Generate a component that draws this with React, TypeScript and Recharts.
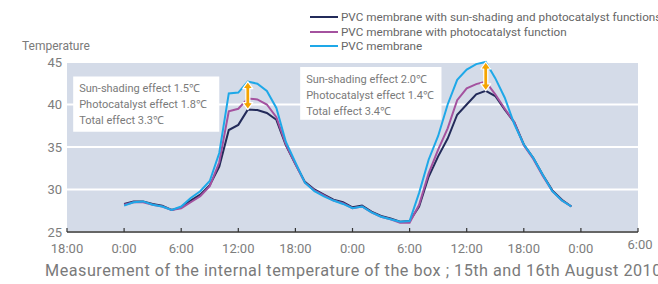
import React from 'react';
import { LineChart, Line, XAxis, YAxis, CartesianGrid, ReferenceArea, ReferenceLine } from 'recharts';

// hours counted from 18:00 on the evening before the first measuring day
const hours = [6, 7, 8, 9, 10, 11, 12, 13, 14, 15, 16, 17, 18, 19, 20, 21, 22, 23, 24, 25, 26, 27, 28, 29, 30, 31, 32, 33, 34, 35, 36, 37, 38, 39, 40, 41, 42, 43, 44, 45, 46, 47, 48, 49, 50, 51, 52, 53];

const sunShadingPhoto = [28.3, 28.6, 28.6, 28.3, 28.1, 27.6, 27.9, 28.7, 29.4, 30.5, 32.7, 37.0, 37.6, 39.4, 39.35, 39.0, 38.2, 35.2, 33.0, 30.9, 30.0, 29.4, 28.8, 28.5, 27.9, 28.1, 27.4, 26.9, 26.6, 26.2, 26.3, 28.0, 31.5, 33.9, 36.0, 38.8, 40.0, 41.2, 41.6, 41.0, 39.4, 37.9, 35.3, 33.7, 31.7, 29.9, 28.8, 28.0];
const photocatalyst = [28.2, 28.5, 28.5, 28.2, 28.0, 27.6, 27.8, 28.5, 29.2, 30.4, 33.2, 39.2, 39.5, 40.7, 40.6, 40.0, 38.5, 35.3, 33.0, 30.8, 29.9, 29.3, 28.7, 28.4, 27.8, 28.0, 27.3, 26.8, 26.5, 26.1, 26.1, 28.2, 31.9, 34.7, 37.2, 40.5, 41.9, 42.4, 42.7, 41.2, 39.5, 37.9, 35.2, 33.6, 31.6, 29.8, 28.7, 28.0];
const pvcOnly = [28.1, 28.5, 28.6, 28.2, 28.0, 27.6, 28.0, 29.0, 29.8, 31.0, 34.3, 41.3, 41.4, 42.7, 42.45, 41.6, 39.6, 35.6, 33.2, 30.8, 29.8, 29.2, 28.7, 28.3, 27.8, 28.0, 27.3, 26.8, 26.5, 26.2, 26.3, 29.6, 33.5, 36.3, 40.0, 42.9, 44.1, 44.75, 45.0, 43.1, 40.8, 37.7, 35.3, 33.7, 31.7, 29.8, 28.7, 28.0];

const xTicks = [0, 6, 12, 18, 24, 30, 36, 42, 48, 54, 60];
const xTickLabels = ['18:00', '0:00', '6:00', '12:00', '18:00', '0:00', '6:00', '12:00', '18:00', '0:00', '6:00'];
const yTicks = [25, 30, 35, 40, 45];

const seriesNames = [
  'PVC membrane with sun-shading and photocatalyst functions',
  'PVC membrane with photocatalyst function',
  'PVC membrane',
];
const seriesKeys = ['a', 'b', 'c'];
const seriesColors = ['#232b5a', '#a4529f', '#1ea8e8'];

const box1Lines = ['Sun-shading effect 1.5\u2103', 'Photocatalyst effect 1.8\u2103', 'Total effect 3.3\u2103'];
const box2Lines = ['Sun-shading effect 2.0\u2103', 'Photocatalyst effect 1.4\u2103', 'Total effect 3.4\u2103'];
const arrowHours = [19, 44];

const yTitle = 'Temperature';
const caption = 'Measurement of the internal temperature of the box ; 15th and 16th August 2010';

const data = hours.map((h, i) => ({ h, a: sunShadingPhoto[i], b: photocatalyst[i], c: pvcOnly[i] }));

const FONT = 'Roboto, "Liberation Sans", sans-serif';

const XTick = (props: any) => {
  const { x, y, payload } = props;
  const idx = xTicks.indexOf(payload.value);
  const last = idx === xTicks.length - 1;
  return (
    <g>
      <line x1={x} y1={y} x2={x} y2={y - 4} stroke="#333" strokeWidth={1.2} />
      <text
        x={last ? x + 2 : x}
        y={last ? y + 12 : y + 16}
        textAnchor="middle"
        dominantBaseline="central"
        fill="#7d7d7d"
        fontSize={13}
        fontFamily={FONT}
      >
        {xTickLabels[idx]}
      </text>
    </g>
  );
};

const makeBoxLabel = (lines: string[]) => (props: any) => {
  const vb = props.viewBox || {};
  return (
    <g>
      {lines.map((t, i) => (
        <text
          key={i}
          x={vb.x + 6}
          y={vb.y + 12 + i * 16}
          dominantBaseline="central"
          fill="#7a7a7a"
          fontSize={11}
          fontFamily={FONT}
        >
          {t}
        </text>
      ))}
    </g>
  );
};

const ArrowShape = (props: any) => {
  const { x1, y1, x2, y2 } = props;
  const x = x1;
  const top = Math.min(y1, y2);
  const bot = Math.max(y1, y2);
  const hh = 7;
  const hw = 5;
  const sw = 2;
  const d = `M ${x} ${top} L ${x + hw} ${top + hh} L ${x + sw} ${top + hh} L ${x + sw} ${bot - hh} L ${x + hw} ${bot - hh} L ${x} ${bot} L ${x - hw} ${bot - hh} L ${x - sw} ${bot - hh} L ${x - sw} ${top + hh} L ${x - hw} ${top + hh} Z`;
  return <path d={d} fill="#f5a400" stroke="#fff" strokeWidth={1.2} strokeLinejoin="round" />;
};

export default function App() {
  return (
    <div style={{ position: 'absolute', left: 0, top: 0, width: 658, height: 284, overflow: 'hidden', background: '#fff', fontFamily: FONT }}>
      <LineChart width={658} height={284} data={data} margin={{ top: 62, right: 20, bottom: 0, left: 0 }}>
        <CartesianGrid vertical={false} fill="#d4dbe8" fillOpacity={1} stroke="#ffffff" strokeWidth={2} />
        <XAxis
          type="number"
          dataKey="h"
          domain={[0, 60]}
          ticks={xTicks}
          interval={0}
          height={52}
          tickSize={0}
          tickMargin={0}
          tickLine={false}
          tick={<XTick />}
          axisLine={{ stroke: '#333', strokeWidth: 1.5 }}
        />
        <YAxis
          type="number"
          domain={[25, 45]}
          ticks={yTicks}
          interval={0}
          width={67}
          tickSize={0}
          tickMargin={5}
          tickLine={false}
          axisLine={false}
          tick={{ fill: '#7d7d7d', fontSize: 13, fontFamily: FONT }}
        />
        <ReferenceArea x1={0.65} x2={16} y1={36.8} y2={43.3} fill="#ffffff" fillOpacity={1} stroke="none" ifOverflow="visible" label={makeBoxLabel(box1Lines)} />
        <ReferenceArea x1={24.5} x2={39.35} y1={38.2} y2={44.4} fill="#ffffff" fillOpacity={1} stroke="none" ifOverflow="visible" label={makeBoxLabel(box2Lines)} />
        {seriesKeys.map((k, i) => (
          <Line
            key={k}
            type="linear"
            dataKey={k}
            stroke={seriesColors[i]}
            strokeWidth={2}
            dot={false}
            activeDot={false}
            isAnimationActive={false}
          />
        ))}
        {arrowHours.map((hr) => {
          const i = hours.indexOf(hr);
          return (
            <ReferenceLine
              key={hr}
              segment={[{ x: hr, y: pvcOnly[i] }, { x: hr, y: sunShadingPhoto[i] }]}
              ifOverflow="visible"
              shape={ArrowShape}
            />
          );
        })}
      </LineChart>
      <div style={{ position: 'absolute', left: 22, top: 39, fontSize: 12, color: '#7a7a7a', whiteSpace: 'nowrap' }}>{yTitle}</div>
      <div style={{ position: 'absolute', left: 310, top: 10 }}>
        {seriesNames.map((n, i) => (
          <div key={i} style={{ display: 'flex', alignItems: 'center', height: 14.5, whiteSpace: 'nowrap' }}>
            <div style={{ width: 28, height: 2, background: seriesColors[i], marginRight: 3 }} />
            <span style={{ fontSize: 11.7, color: '#666', lineHeight: '14px' }}>{n}</span>
          </div>
        ))}
      </div>
      <div style={{ position: 'absolute', left: 45, top: 261, fontSize: 16.2, letterSpacing: 0.5, color: '#7a7a7a', whiteSpace: 'nowrap' }}>{caption}</div>
    </div>
  );
}
